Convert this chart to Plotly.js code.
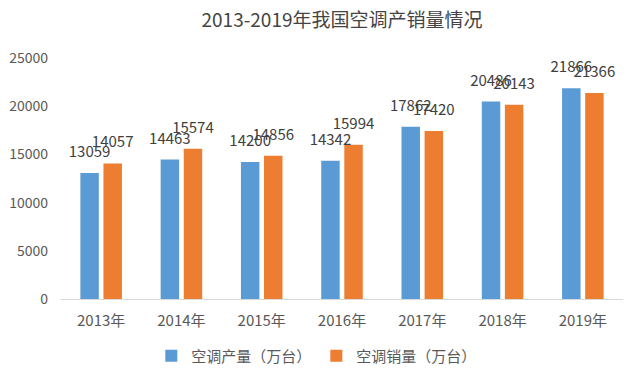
<!DOCTYPE html>
<html><head><meta charset="utf-8">
<script src="https://cdn.plot.ly/plotly-3.0.1.min.js"></script>
<style>html,body{margin:0;padding:0;background:#fff;}#chart{width:640px;height:376px;}</style>
</head><body><div id="chart"></div>
<script>
const years = ['2013年','2014年','2015年','2016年','2017年','2018年','2019年'];
const production = [13059, 14463, 14200, 14342, 17862, 20486, 21866];
const sales = [14057, 15574, 14856, 15994, 17420, 20143, 21366];
const seriesNames = ['空调产量（万台）','空调销量（万台）'];
const FONT = '"Noto Sans CJK SC", "Microsoft YaHei", sans-serif';

function bar(y, name, color, grp){
  return {type:'bar', x:years, y:y, name:name, marker:{color:color}, offsetgroup:grp};
}
function labels(y, grp){
  return {type:'scatter', mode:'markers+text', x:years, y:y, offsetgroup:grp, showlegend:false,
    text:y.map(String), textposition:'top center', cliponaxis:false,
    marker:{size:18, opacity:0}, hoverinfo:'skip',
    textfont:{size:15, color:'#404040', family:FONT}};
}
const traces = [
  bar(production, seriesNames[0], '#5B9BD5', 'a'),
  bar(sales, seriesNames[1], '#ED7D31', 'b'),
  labels(production, 'a'),
  labels(sales, 'b')
];
const layout = {
  width:640, height:376,
  margin:{l:61, r:17, t:58, b:77, autoexpand:false},
  paper_bgcolor:'#fff', plot_bgcolor:'#fff',
  font:{family:FONT, color:'#595959', size:14},
  title:{text:'2013-2019年我国空调产销量情况', x:0.5, xanchor:'center', xref:'paper', y:0.947, yanchor:'middle',
         font:{size:19, color:'#444', family:FONT}},
  barmode:'group', bargap:0.425, bargroupgap:0.2,
  scattermode:'group', scattergap:0.425,
  xaxis:{showline:true, linecolor:'#d9d9d9', linewidth:1, ticks:'', ticklabelstandoff:8,
         tickfont:{size:15, color:'#595959'}},
  yaxis:{range:[0,25000], dtick:5000, tickformat:'d', showgrid:false, zeroline:false, showline:false,
         ticks:'', ticklabelstandoff:12, tickfont:{size:14, color:'#595959'}},
  showlegend:true,
  legend:{orientation:'h', xref:'container', yref:'container', x:0.495, xanchor:'center', y:0.053, yanchor:'middle',
          font:{size:15, color:'#595959'}, itemwidth:30, tracegroupgap:0}
};
Plotly.newPlot('chart', traces, layout, {displayModeBar:false, staticPlot:true});
</script></body></html>
